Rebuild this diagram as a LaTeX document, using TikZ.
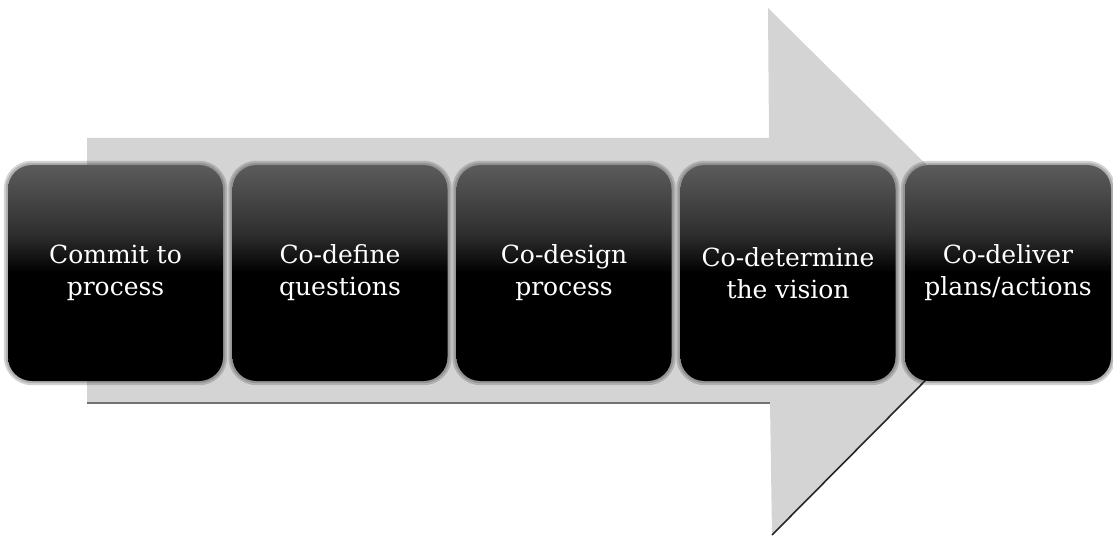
\documentclass[tikz,border=0pt]{standalone}
\usepackage{fontspec}
\setmainfont{DejaVu Serif}
\pgfdeclarelayer{arrowlayer}
\pgfdeclarelayer{halolayer}
\pgfsetlayers{arrowlayer,halolayer,main}
\pgfdeclareverticalshading{boxshade}{100bp}{color(0bp)=(black); color(25bp)=(black); color(50bp)=(black); color(59bp)=(black!82); color(75bp)=(black!64); color(100bp)=(black!64)}
\tikzset{
  stepbox/.style={rectangle, rounded corners=24pt, minimum width=215pt, minimum height=216pt,
    inner sep=0pt, shading=boxshade,
    text=white, align=center, font=\fontsize{25}{32}\selectfont},
  halo/.style={rounded corners=24pt, draw=black!80, line width=#1, opacity=0.22},
  arrowfill/.style={fill=black!17},
  bodyedge/.style={draw=black!55, line width=1.6pt},
  headedge/.style={draw=black!85, line width=1.6pt}
}
\begin{document}
\begin{tikzpicture}[x=1pt,y=-1pt]
\useasboundingbox (0,0) rectangle (1113,540);
% boxes
\node[stepbox] (b1) at (115.5,273) {Commit to\\process};
\node[stepbox] (b2) at (340,273) {Co-define\\questions};
\node[stepbox] (b3) at (564,273) {Co-design\\process};
\node[stepbox] (b4) at (788,273) {Co-determine\\the vision};
\node[stepbox, minimum width=206pt] (b5) at (1008,273) {Co-deliver\\plans/actions};
% halos
\begin{pgfonlayer}{halolayer}
\foreach \b in {b1,b2,b3,b4,b5}{
  \draw[halo=8pt] (\b.north west) rectangle (\b.south east);
  \draw[halo=4pt] (\b.north west) rectangle (\b.south east);
}
\end{pgfonlayer}
% big arrow
\begin{pgfonlayer}{arrowlayer}
\coordinate (tl) at (87,138);
\coordinate (bl) at (87,403);
\coordinate (ht) at (769,138);
\coordinate (hb) at (770,403);
\coordinate (pt) at (768,8);
\coordinate (pb) at (772,535);
\coordinate (tip) at (1034,271);
\fill[arrowfill] (tl) -- (ht) -- (pt) -- (tip) -- (pb) -- (hb) -- (bl) -- cycle;
\draw[bodyedge] (bl) -- (hb);
\draw[headedge] (pb) -- (tip);
\end{pgfonlayer}
\end{tikzpicture}
\end{document}
